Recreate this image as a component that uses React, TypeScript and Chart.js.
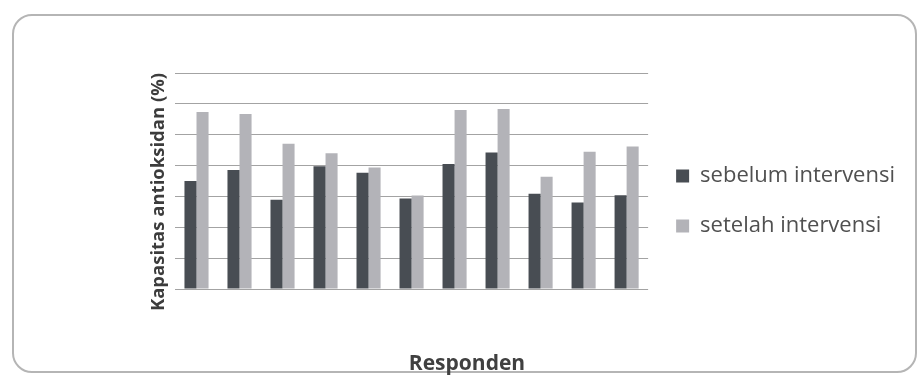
import React, { useEffect, useRef } from "react";
import { Chart, registerables } from "chart.js";

Chart.register(...registerables);

// Respondents 1..11
const respondents = ["1", "2", "3", "4", "5", "6", "7", "8", "9", "10", "11"];

// Antioxidant capacity (%) before and after the intervention
const sebelum = [35.0, 38.6, 28.9, 39.8, 37.7, 29.3, 40.5, 44.2, 30.9, 28.0, 30.4];
const setelah = [57.4, 56.7, 47.1, 44.0, 39.4, 30.3, 58.0, 58.3, 36.4, 44.5, 46.2];

const seriesLabels = ["sebelum intervensi", "setelah intervensi"];
const yTitle = "Kapasitas antioksidan (%)";
const xTitle = "Responden";

const FONT = '"Open Sans", "DejaVu Sans", sans-serif';

// Draws both axis titles next to the plot area
const axisTitles = {
  id: "axisTitles",
  afterDraw(chart: any) {
    const { ctx, chartArea } = chart;
    ctx.save();
    ctx.textAlign = "center";
    ctx.textBaseline = "middle";

    ctx.fillStyle = "#3c3c3c";
    ctx.font = `bold 18.5px ${FONT}`;
    ctx.translate(chartArea.left - 16, (chartArea.top + chartArea.bottom) / 2 + 11);
    ctx.rotate(-Math.PI / 2);
    ctx.fillText(yTitle, 0, 0);
    ctx.setTransform(1, 0, 0, 1, 0, 0);

    ctx.fillStyle = "#404040";
    ctx.font = `bold 21px ${FONT}`;
    ctx.fillText(xTitle, chartArea.left + 292, chartArea.bottom + 75);
    ctx.restore();
  },
};

export default function App() {
  const canvasRef = useRef<HTMLCanvasElement | null>(null);

  useEffect(() => {
    if (!canvasRef.current) return;
    const chart = new Chart(canvasRef.current, {
      type: "bar",
      data: {
        labels: respondents,
        datasets: [
          {
            label: seriesLabels[0],
            data: sebelum,
            backgroundColor: "#484d53",
            categoryPercentage: 0.56,
            barPercentage: 1,
          },
          {
            label: seriesLabels[1],
            data: setelah,
            backgroundColor: "#b3b3b8",
            categoryPercentage: 0.56,
            barPercentage: 1,
          },
        ],
      },
      options: {
        responsive: false,
        animation: false,
        layout: { padding: { left: 175, top: 73, right: 15, bottom: 47 } },
        scales: {
          x: {
            grid: { display: false },
            border: { display: false },
            ticks: { display: false },
            afterFit: (s: any) => {
              s.height = 40;
            },
          },
          y: {
            min: 0,
            max: 70,
            ticks: { display: false, stepSize: 10 },
            grid: { color: "#a3a3a3", lineWidth: 1, drawTicks: false },
            border: { display: false },
            afterFit: (s: any) => {
              s.width = 0;
            },
          },
        },
        plugins: {
          legend: {
            position: "right",
            maxWidth: 320,
            labels: {
              boxWidth: 13,
              boxHeight: 13,
              padding: 28,
              color: "#505050",
              font: { family: FONT, size: 22, lineHeight: 1 },
            },
          },
          tooltip: { enabled: false },
        },
      },
      plugins: [axisTitles],
    });
    return () => chart.destroy();
  }, []);

  return (
    <div style={{ position: "fixed", left: 0, top: 0, width: 920, height: 376, background: "#ffffff" }}>
      <div
        style={{
          position: "absolute",
          left: 12,
          top: 14,
          width: 905,
          height: 359,
          boxSizing: "border-box",
          border: "2px solid #b5b5b5",
          borderRadius: 20,
        }}
      />
      <canvas ref={canvasRef} width={920} height={376} style={{ position: "absolute", left: 0, top: 0 }} />
    </div>
  );
}
